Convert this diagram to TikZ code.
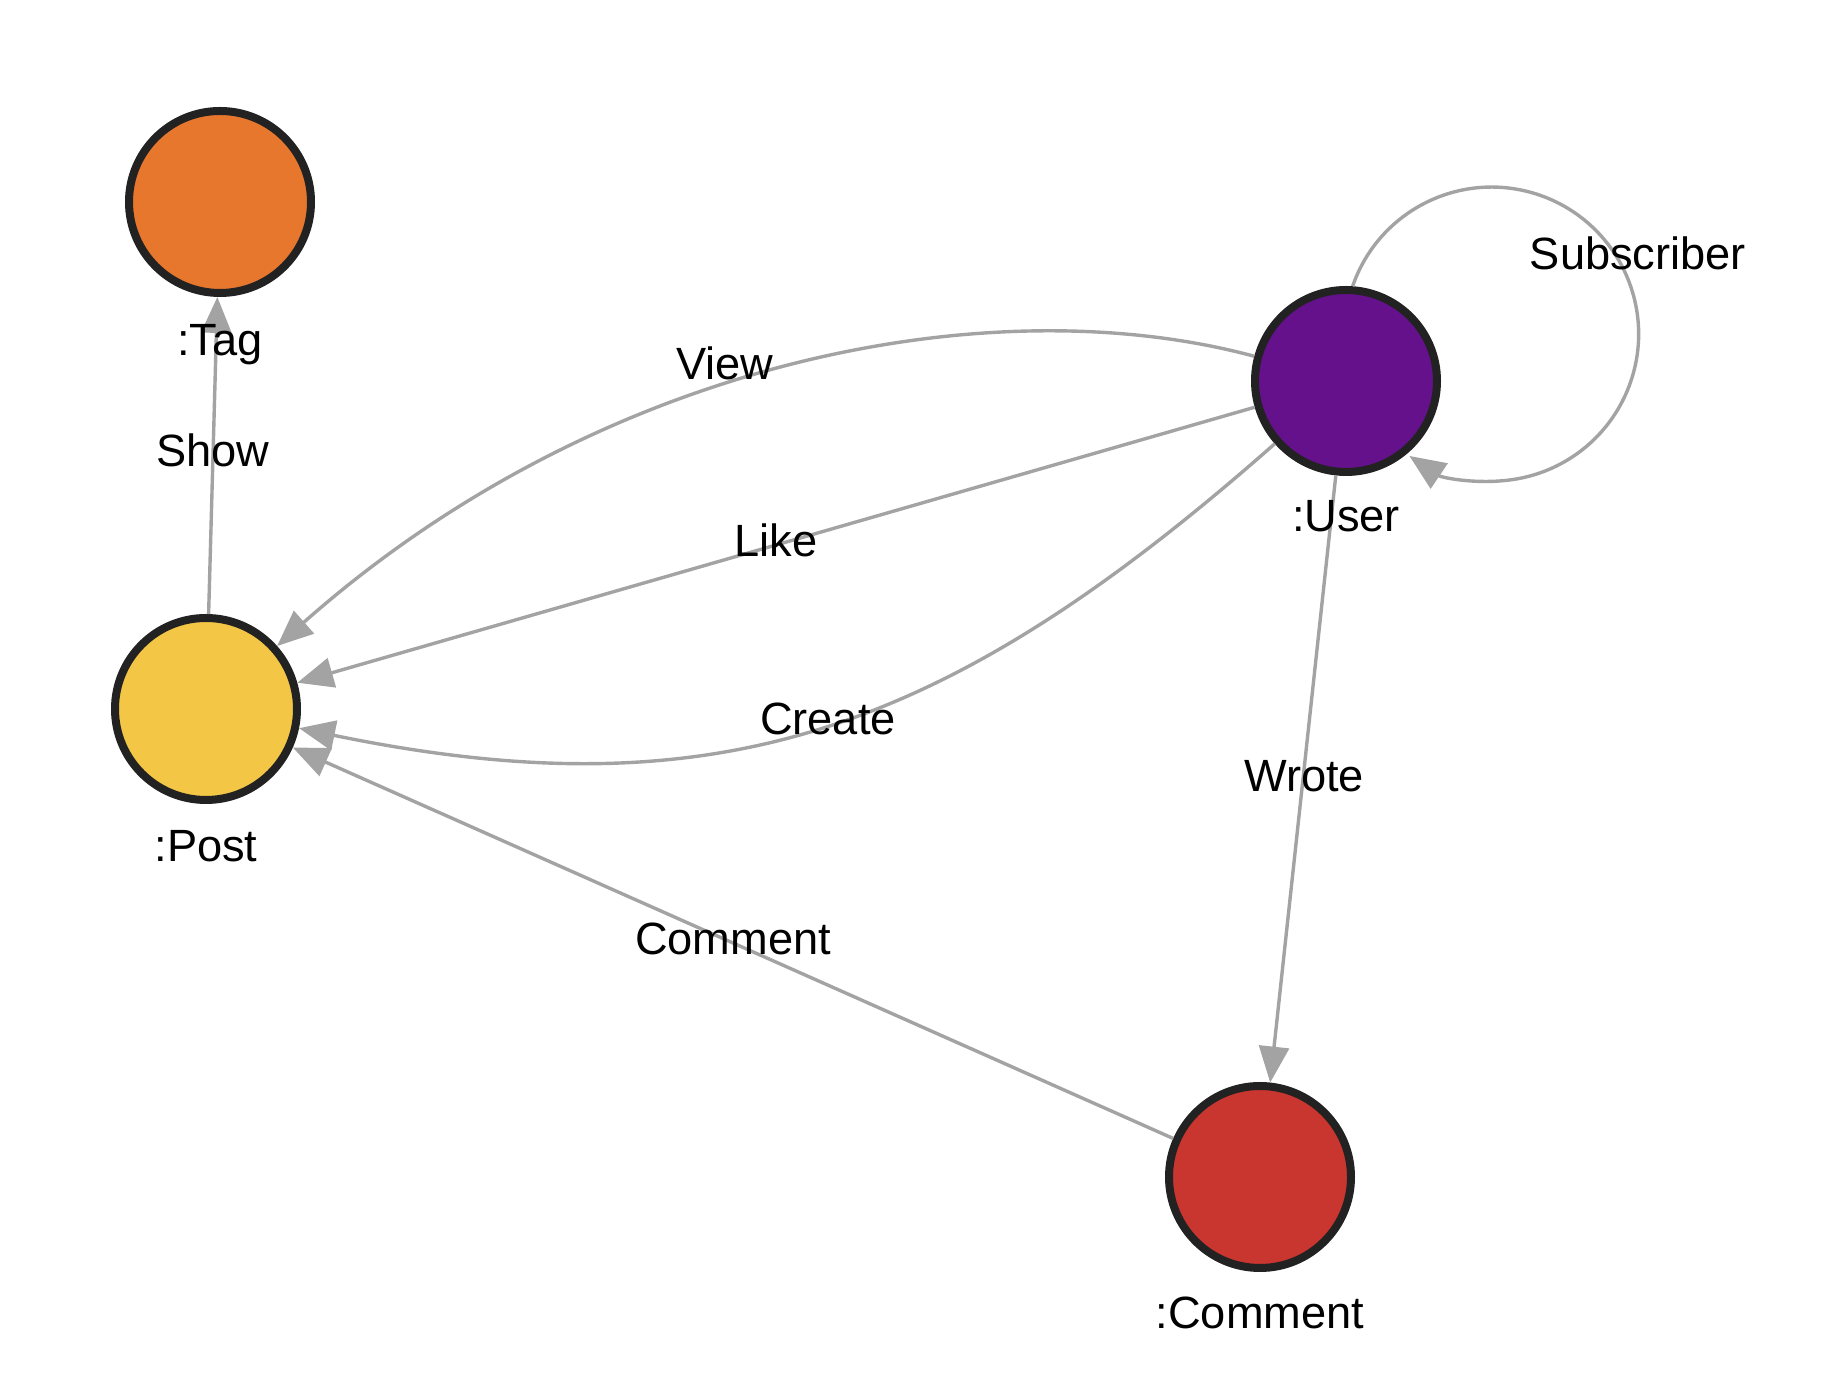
\documentclass[tikz,border=0pt]{standalone}
\usepackage{fontspec}
\setmainfont{Liberation Sans}
\usetikzlibrary{arrows.meta}

\definecolor{tagcol}{HTML}{E8772E}
\definecolor{postcol}{HTML}{F4C645}
\definecolor{usercol}{HTML}{66118C}
\definecolor{commentcol}{HTML}{C9352F}
\definecolor{rimcol}{HTML}{222222}
\definecolor{relcol}{HTML}{A3A3A3}

\tikzset{
  entity/.style={circle,draw=rimcol,line width=2pt,minimum size=45.5pt,inner sep=0pt},
  rel/.style={draw=relcol,line width=0.85pt,-{Triangle[length=9pt,width=7.5pt]}},
  lbl/.style={anchor=base,inner sep=0pt,font=\fontsize{11.3}{13}\selectfont}
}

\begin{document}
\begin{tikzpicture}[x=0.25pt,y=-0.25pt]
\useasboundingbox (0,0) rectangle (1844,1398);
%%
\node (tag) at (220,202) [entity,fill=tagcol] {};
\node (post) at (206,709) [entity,fill=postcol] {};
\node (user) at (1346,381) [entity,fill=usercol] {};
\node (comment) at (1260,1177) [entity,fill=commentcol] {};
%% relations
\draw [rel] (post) -- (tag);
\draw [rel] (user) ..controls (990,285) and (600,360) .. (post);
\draw [rel] (user) -- (post);
\draw [rel] (user) ..controls (950,730) and (720,815) .. (post);
\draw [rel] (comment) -- (post);
\draw [rel] (user) -- (comment);
\draw [rel] (user.86) arc[start angle=199,end angle=484,radius=147];
%% texts
\node (tagl) at (220,356) [lbl] {:Tag};
\node (postl) at (206,862) [lbl] {:Post};
\node (userl) at (1346,532) [lbl] {:User};
\node (commentl) at (1260,1329) [lbl] {:Comment};
\node (showl) at (213,467) [lbl] {Show};
\node (viewl) at (725,380) [lbl] {View};
\node (likel) at (776,557) [lbl] {Like};
\node (createl) at (828,735) [lbl] {Create};
\node (commentrl) at (733,955) [lbl] {Comment};
\node (wrotel) at (1304,792) [lbl] {Wrote};
\node (subl) at (1638,270) [lbl] {Subscriber};
%
\end{tikzpicture}
\end{document}
